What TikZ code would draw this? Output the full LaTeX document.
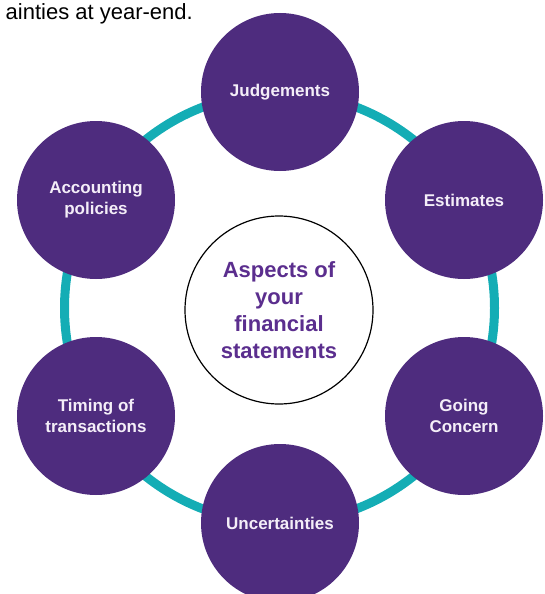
\documentclass[tikz,border=0pt]{standalone}
\usepackage{fontspec}
\setmainfont{Liberation Sans}
\definecolor{aspPurple}{HTML}{4E2C7E}
\definecolor{aspTeal}{HTML}{14ADB5}
\definecolor{aspText}{HTML}{5B2E8E}
\definecolor{aspWhite}{HTML}{F4EEF8}
\begin{document}
\begin{tikzpicture}[x=1pt,y=-1pt,
  bubble/.style={circle, fill=aspPurple, minimum size=158pt, inner sep=0pt,
    text=aspWhite, align=center,
    font=\fontsize{17pt}{21pt}\selectfont\bfseries},
  hub/.style={circle, draw=black, line width=1.2pt, fill=white, minimum size=188pt,
    inner sep=0pt, text=aspText, align=center,
    font=\fontsize{22pt}{27pt}\selectfont\bfseries},
  ringstyle/.style={circle, draw=aspTeal, line width=9pt, minimum size=430pt, inner sep=0pt}]
\useasboundingbox (0,0) rectangle (544,594);
\node[anchor=base east, font=\fontsize{22pt}{26pt}\selectfont, text=black, inner sep=0pt] (top) at (193,20) {ainties at year-end.};
\node[ringstyle] (ring) at (279.5,308) {};
\node[hub] (center) at (279,310) {Aspects of\\your\\financial\\statements};
\node[bubble] (judg) at (280,92) {Judgements};
\node[bubble] (est) at (464,200) {Estimates};
\node[bubble] (gc) at (464,416) {Going\\Concern};
\node[bubble] (unc) at (280,523) {Uncertainties};
\node[bubble] (tim) at (96,416) {Timing of\\transactions};
\node[bubble] (acc) at (96,200) {Accounting\\policies};
\end{tikzpicture}
\end{document}
